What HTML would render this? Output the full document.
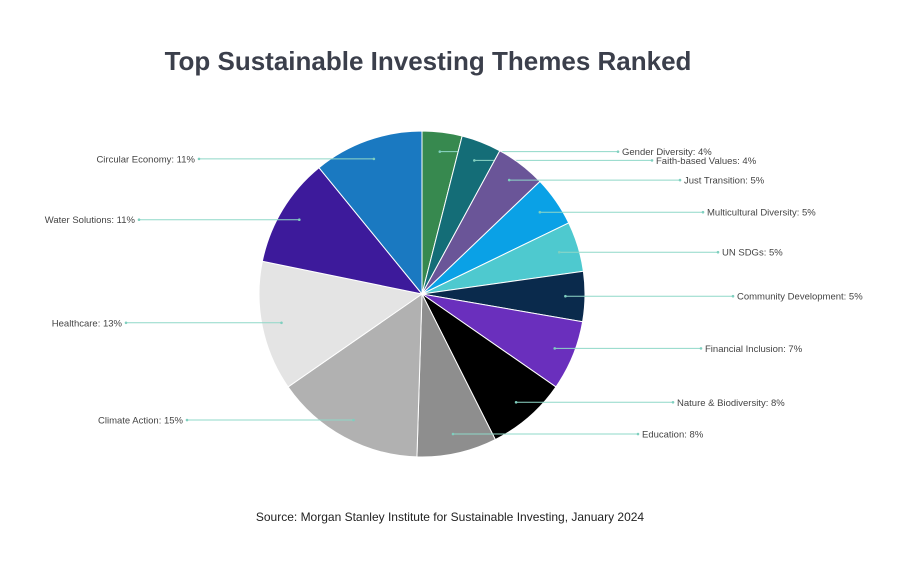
<!DOCTYPE html>
<html><head><meta charset="utf-8"><style>
body{margin:0;background:#fff;}
svg{display:block;font-family:"Liberation Sans",sans-serif;}
</style></head><body>
<svg width="900" height="564" viewBox="0 0 900 564">
<text x="428" y="70" text-anchor="middle" font-size="26" font-weight="bold" fill="#3b3f4b">Top Sustainable Investing Themes Ranked</text>
<g id="pie"></g>
<text x="450" y="521" text-anchor="middle" font-size="12" fill="#222">Source: Morgan Stanley Institute for Sustainable Investing, January 2024</text>
</svg>
<script>
const categories=["Gender Diversity","Faith-based Values","Just Transition","Multicultural Diversity","UN SDGs","Community Development","Financial Inclusion","Nature & Biodiversity","Education","Climate Action","Healthcare","Water Solutions","Circular Economy"];
const values=[4,4,5,5,5,5,7,8,8,15,13,11,11];
const colors=["#37894f","#146d77","#6a5598","#0aa1e6","#4ec9cf","#0a2a4c","#6a2fbd","#000000","#8e8e8e","#b1b1b1","#e4e4e4","#3d1a9b","#1a79c1"];
const labelX=[622,656,684,707,722,737,705,677,642,183,122,135,195];
const cx=422,cy=294,R=163;
const g=document.getElementById('pie');
const NS='http://www.w3.org/2000/svg';
const total=values.reduce((a,b)=>a+b,0);
let acc=0;
function pt(frac,r){const a=frac*2*Math.PI;return [cx+r*Math.sin(a),cy-r*Math.cos(a)];}
values.forEach((v,i)=>{
  const f0=acc/total,f1=(acc+v)/total;acc+=v;
  const p0=pt(f0,R),p1=pt(f1,R);
  const large=(f1-f0)>0.5?1:0;
  const path=document.createElementNS(NS,'path');
  path.setAttribute('d',`M${cx},${cy}L${p0[0]},${p0[1]}A${R},${R} 0 ${large} 1 ${p1[0]},${p1[1]}Z`);
  path.setAttribute('fill',colors[i]);
  path.setAttribute('stroke','#fff');
  path.setAttribute('stroke-width','1');
  
  
  g.appendChild(path);
  const m=pt((f0+f1)/2,R*0.88);
  const right=m[0]>=cx;
  const lx=labelX[i];
  const endX=right?lx-4:lx+4;
  const line=document.createElementNS(NS,'line');
  line.setAttribute('x1',m[0]);line.setAttribute('y1',m[1]);
  line.setAttribute('x2',endX);line.setAttribute('y2',m[1]);
  line.setAttribute('stroke','#8fd8c8');line.setAttribute('stroke-width','1');
  
  
  g.appendChild(line);
  [[m[0],m[1]],[endX,m[1]]].forEach(p=>{
    const c=document.createElementNS(NS,'circle');
    c.setAttribute('cx',p[0]);c.setAttribute('cy',p[1]);c.setAttribute('r','1.3');
    c.setAttribute('fill','#7fcfbf');
    
    
    g.appendChild(c);
  });
  const t=document.createElementNS(NS,'text');
  t.setAttribute('x',lx);t.setAttribute('y',m[1]+3.5);
  t.setAttribute('font-size','9.5');t.setAttribute('fill','#444');
  t.setAttribute('text-anchor',right?'start':'end');
  t.textContent=categories[i]+': '+v+'%';
  
  
  g.appendChild(t);
});
</script>
</body></html>
